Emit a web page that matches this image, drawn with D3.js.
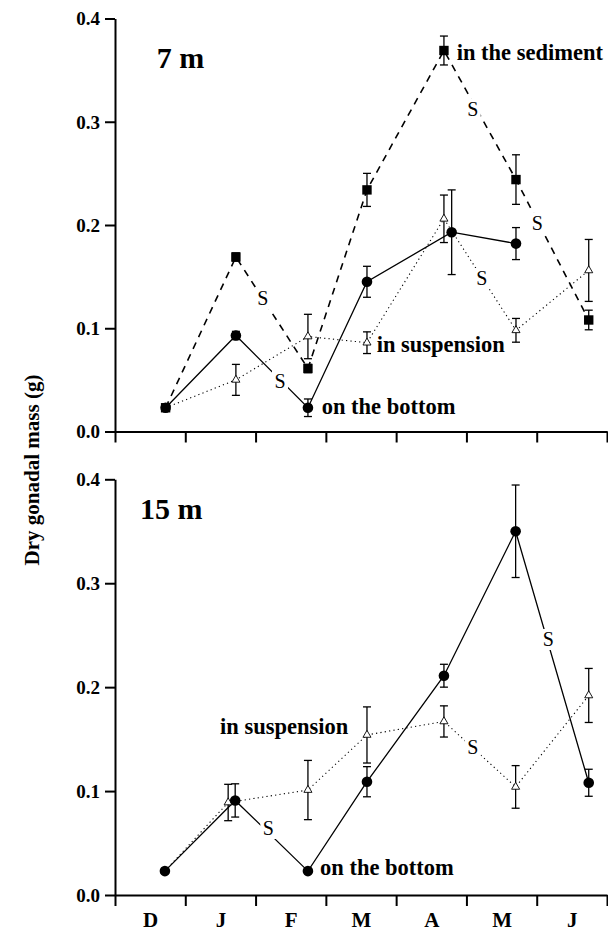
<!DOCTYPE html>
<html>
<head>
<meta charset="utf-8">
<script src="https://cdn.jsdelivr.net/npm/d3@7"></script>
<style>
  html, body { margin: 0; padding: 0; background: #fff; }
  svg { display: block; }
  text { font-family: "Liberation Serif", "Times New Roman", serif; fill: #000; }
</style>
</head>
<body>
<svg id="chart" width="608" height="931"></svg>
<script>
// ---------- data ----------
const months = ["D", "J", "F", "M", "A", "M", "J"];
const yTicks = [0.0, 0.1, 0.2, 0.3, 0.4];

// 7 m — sampling positions (in months from start of December), means and SE
const sed7Pos = [0.72, 1.72, 2.745, 3.585, 4.68, 5.705, 6.74];
const sed7Val = [0.023, 0.169, 0.061, 0.234, 0.369, 0.244, 0.108];
const sed7Err = [0, 0.004, 0.004, 0.016, 0.014, 0.024, 0.0095];

const bot7Pos = [0.72, 1.72, 2.745, 3.585, 4.79, 5.705];
const bot7Val = [0.023, 0.093, 0.023, 0.145, 0.193, 0.182];
const bot7Err = [0, 0.004, 0.0085, 0.015, 0.041, 0.0155];

const sus7Pos = [0.72, 1.72, 2.745, 3.585, 4.68, 5.705, 6.74];
const sus7Val = [0.023, 0.050, 0.092, 0.086, 0.206, 0.098, 0.156];
const sus7Err = [0, 0.015, 0.0215, 0.0105, 0.023, 0.0115, 0.030];

// 15 m
const bot15Pos = [0.71, 1.71, 2.745, 3.585, 4.68, 5.70, 6.74];
const bot15Val = [0.023, 0.091, 0.023, 0.109, 0.211, 0.350, 0.108];
const bot15Err = [0, 0.016, 0, 0.0145, 0.011, 0.0445, 0.013];

const sus15Pos = [0.71, 1.61, 2.745, 3.585, 4.68, 5.70, 6.74];
const sus15Val = [0.023, 0.089, 0.101, 0.154, 0.167, 0.104, 0.192];
const sus15Err = [0, 0.0175, 0.0285, 0.027, 0.015, 0.0205, 0.026];

// significance marks ("S") between consecutive samples: [series, index of first sample]
const sig7 = [["sed", 1, 262.7, 305], ["bot", 1, 280, 388], ["sed", 4, 472.7, 116], ["sed", 5, 537.3, 230], ["sus", 4, 481.7, 285]];
const sig15 = [["bot", 1, 268.3, 835], ["bot", 5, 548.3, 646], ["sus", 4, 472.7, 754]];

// ---------- layout ----------
const svg = d3.select("#chart");
const x = d3.scaleLinear().domain([0, 7]).range([115, 607]);

const panels = [
  { name: "7 m", nameX: 156.7, nameY: 68, y0: 431.5, y4: 18.5,
    series: [
      { key: "sus", pos: sus7Pos, val: sus7Val, err: sus7Err },
      { key: "bot", pos: bot7Pos, val: bot7Val, err: bot7Err },
      { key: "sed", pos: sed7Pos, val: sed7Val, err: sed7Err }
    ],
    sig: sig7,
    labels: [
      { t: "in the sediment", x: 456.7, y: 60 },
      { t: "in suspension", x: 376.7, y: 352 },
      { t: "on the bottom", x: 321.7, y: 414 }
    ],
    months: false },
  { name: "15 m", nameX: 140, nameY: 519, y0: 895, y4: 479.3,
    series: [
      { key: "sus", pos: sus15Pos, val: sus15Val, err: sus15Err },
      { key: "bot", pos: bot15Pos, val: bot15Val, err: bot15Err }
    ],
    sig: sig15,
    labels: [
      { t: "in suspension", x: 220, y: 734 },
      { t: "on the bottom", x: 320, y: 875 }
    ],
    months: true }
];

const lineStyle = {
  sed: { w: 1.6, dash: "7,6" },
  bot: { w: 1.3, dash: null },
  sus: { w: 1.1, dash: "1.2,3.2" }
};

panels.forEach(p => {
  const y = d3.scaleLinear().domain([0, 0.4]).range([p.y0, p.y4]);
  const g = svg.append("g");

  // axes
  const yAxis = d3.axisLeft(y).tickValues(yTicks).tickFormat(d3.format(".1f"))
    .tickSize(10).tickSizeOuter(0).tickPadding(5);
  const ya = g.append("g").attr("transform", `translate(${x(0)},0)`).call(yAxis);
  ya.select(".domain").attr("stroke-width", 2);
  ya.selectAll(".tick line").attr("stroke-width", 2);
  ya.selectAll(".tick text").attr("font-size", 19).attr("font-weight", "bold")
    .attr("font-family", "'Liberation Serif', serif").attr("dy", "0.34em");

  const xAxis = d3.axisBottom(x).tickValues(d3.range(8)).tickFormat("")
    .tickSize(11).tickSizeOuter(0);
  const xa = g.append("g").attr("transform", `translate(0,${p.y0})`).call(xAxis);
  xa.select(".domain").attr("stroke-width", 2);
  xa.selectAll(".tick line").attr("stroke-width", 2);

  if (p.months) {
    const mAxis = d3.axisBottom(x).tickValues(d3.range(7).map(i => i + 0.5))
      .tickFormat((d, i) => months[i]).tickSize(0);
    const ma = g.append("g").attr("transform", `translate(0,${p.y0})`).call(mAxis);
    ma.select(".domain").remove();
    ma.selectAll(".tick text").attr("font-size", 21).attr("font-weight", "bold")
      .attr("font-family", "'Liberation Serif', serif")
      .attr("y", 31.7).attr("dy", 0);
  }

  // lines
  const line = d3.line().x(d => x(d[0])).y(d => y(d[1]));
  p.series.forEach(s => {
    const pts = s.pos.map((v, i) => [v, s.val[i]]);
    const st = lineStyle[s.key];
    g.append("path").datum(pts).attr("d", line).attr("fill", "none")
      .attr("stroke", "#000").attr("stroke-width", st.w)
      .attr("stroke-dasharray", st.dash);
  });

  // significance marks with white knock-out
  p.sig.forEach(sg => {
    g.append("rect").attr("x", sg[2] - 8).attr("y", sg[3] - 17)
      .attr("width", 16).attr("height", 21).attr("fill", "#fff");
    g.append("text").attr("x", sg[2]).attr("y", sg[3]).attr("text-anchor", "middle")
      .attr("font-size", 20).text("S");
  });

  // error bars & markers
  const order = ["sus", "bot", "sed"];
  order.forEach(k => {
    const s = p.series.find(d => d.key === k);
    if (!s) return;
    s.pos.forEach((pv, i) => {
      const cx = x(pv), e = s.err[i];
      if (e > 0) {
        const yt = y(s.val[i] + e), yb = y(s.val[i] - e);
        g.append("line").attr("x1", cx).attr("x2", cx).attr("y1", yt).attr("y2", yb)
          .attr("stroke", "#000").attr("stroke-width", 1.3);
        [yt, yb].forEach(yy => g.append("line").attr("x1", cx - 4).attr("x2", cx + 4)
          .attr("y1", yy).attr("y2", yy).attr("stroke", "#000").attr("stroke-width", 1.3));
      }
    });
    s.pos.forEach((pv, i) => {
      const cx = x(pv), cy = y(s.val[i]);
      if (k === "sed") {
        g.append("rect").attr("x", cx - 4.7).attr("y", cy - 4.7).attr("width", 9.4).attr("height", 9.4)
          .attr("fill", "#000");
      } else if (k === "bot") {
        g.append("circle").attr("cx", cx).attr("cy", cy).attr("r", 5.3).attr("fill", "#000");
      } else {
        g.append("path").attr("d", d3.symbol(d3.symbolTriangle, 28)())
          .attr("transform", `translate(${cx},${cy})`)
          .attr("fill", "#fff").attr("stroke", "#000").attr("stroke-width", 0.9);
      }
    });
  });

  // series labels
  p.labels.forEach(l => {
    g.append("text").attr("x", l.x).attr("y", l.y).attr("font-size", 22.5)
      .attr("font-weight", "bold").text(l.t);
  });

  // panel title
  g.append("text").attr("x", p.nameX).attr("y", p.nameY).attr("font-size", 30)
    .attr("font-weight", "bold").text(p.name);
});

// y-axis title
svg.append("text").attr("transform", "translate(39,470) rotate(-90)")
  .attr("text-anchor", "middle").attr("font-size", 21).attr("font-weight", "bold")
  .text("Dry gonadal mass (g)");
</script>
</body>
</html>
